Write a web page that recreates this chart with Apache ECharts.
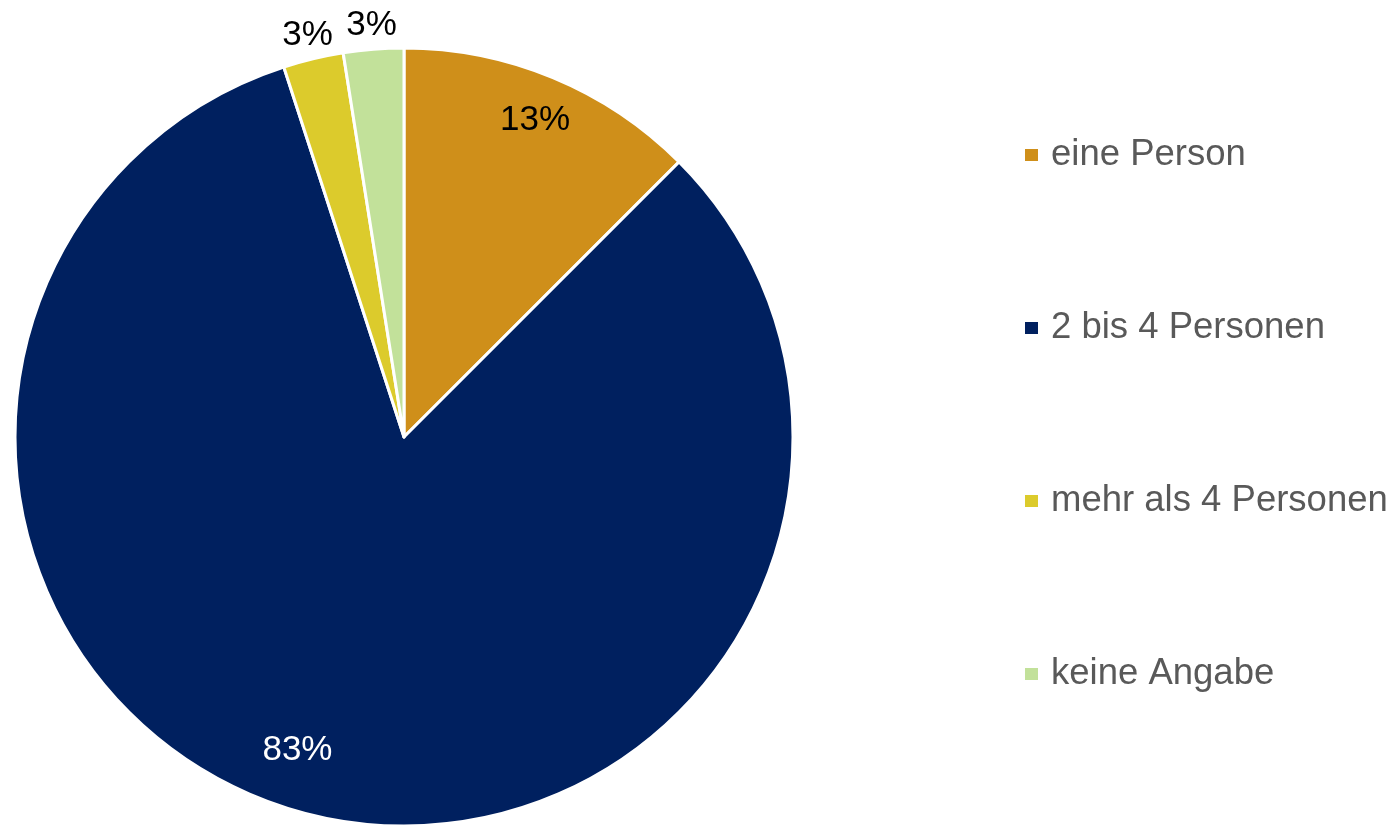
<!DOCTYPE html>
<html>
<head>
<meta charset="utf-8">
<script src="https://cdn.jsdelivr.net/npm/echarts@6/dist/echarts.min.js"></script>
<style>
html,body{margin:0;padding:0;background:#fff;}
#chart{width:1399px;height:825px;}
</style>
</head>
<body>
<div id="chart"></div>
<script>
const categories = ['eine Person', '2 bis 4 Personen', 'mehr als 4 Personen', 'keine Angabe'];
const counts = [5, 33, 1, 1];
const colors = ['#CF8F1A', '#00205F', '#DCCB2C', '#C2E19A'];
const labelColors = ['#000000', '#FFFFFF', '#000000', '#000000'];

const total = counts.reduce((a, b) => a + b, 0);
const CX = 404, CY = 437, R = 389;
// label placement (layout only): radius from centre and angular shift
const labelRadius = [R * 0.88, R * 0.85, R + 24, R + 24];
const labelShift = [0, 5.3, 0, 0];

const midAngles = [];
let acc = 0;
counts.forEach(v => { const a = v / total * 360; midAngles.push(acc + a / 2); acc += a; });

const chart = echarts.init(document.getElementById('chart'), null, {renderer: 'canvas'});
chart.setOption({
  backgroundColor: '#ffffff',
  animation: false,
  color: colors,
  legend: {
    orient: 'vertical',
    left: 1018,
    top: 130,
    itemWidth: 15,
    itemHeight: 14,
    itemGap: 133,
    icon: 'rect',
    textStyle: {
      fontFamily: 'Liberation Sans, Arial, sans-serif',
      fontSize: 36.5,
      lineHeight: 40,
      color: '#595959',
      padding: [0, 0, 0, 7]
    },
    data: categories
  },
  series: [{
    type: 'pie',
    center: [CX, CY],
    radius: [0, R],
    startAngle: 90,
    clockwise: true,
    itemStyle: { borderColor: '#ffffff', borderWidth: 3 },
    labelLine: { show: false },
    label: {
      show: true,
      position: 'inside',
      fontFamily: 'Liberation Sans, Arial, sans-serif',
      fontSize: 35,
      formatter: p => Math.round(p.value / total * 100) + '%'
    },
    labelLayout: function (params) {
      const i = params.dataIndex;
      const rr = labelRadius[i];
      const a = (midAngles[i] + labelShift[i]) * Math.PI / 180;
      return {
        x: CX + Math.sin(a) * rr,
        y: CY - Math.cos(a) * rr,
        align: 'center',
        verticalAlign: 'middle'
      };
    },
    data: categories.map((c, i) => ({
      name: c,
      value: counts[i],
      label: { color: labelColors[i] }
    }))
  }]
});
</script>
</body>
</html>
